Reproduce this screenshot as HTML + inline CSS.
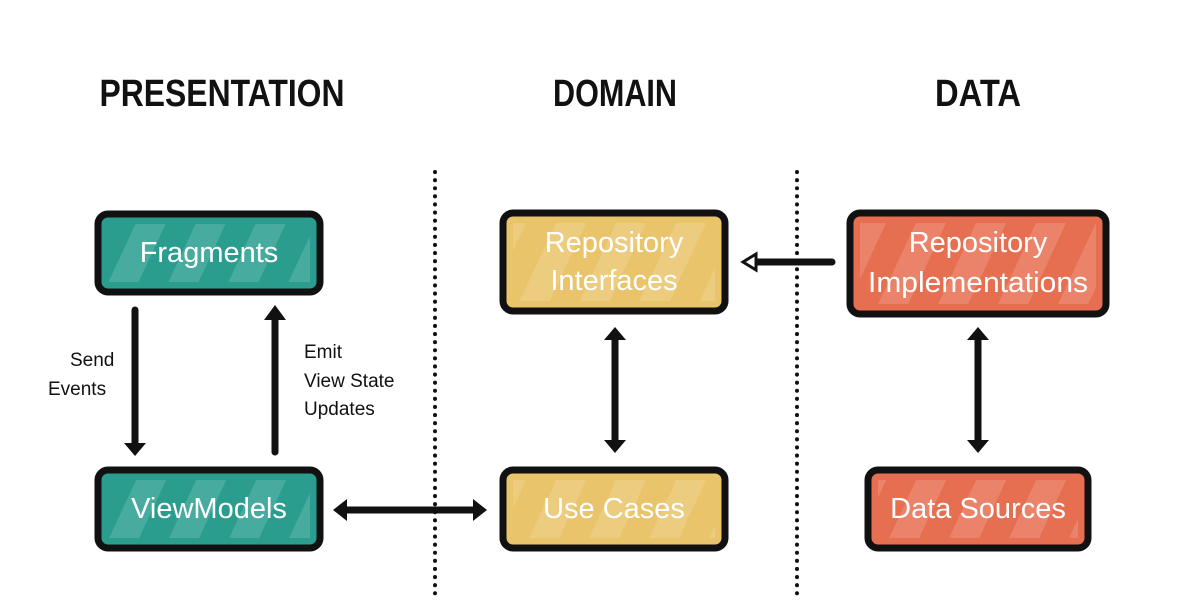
<!DOCTYPE html>
<html><head><style>
html,body{margin:0;padding:0;background:#fff;}
svg{display:block;}
text{font-family:"Liberation Sans",sans-serif;}
</style></head><body>
<svg width="1187" height="614" viewBox="0 0 1187 614" xmlns="http://www.w3.org/2000/svg">
<defs>
<pattern id="st" width="60" height="100" patternUnits="userSpaceOnUse" patternTransform="skewX(-25)">
<rect x="0" y="0" width="30" height="100" fill="#fff" opacity="0.14"/>
</pattern>
</defs>
<g font-size="38" text-anchor="middle" fill="#111" font-weight="bold" font-family="Liberation Sans Narrow, Liberation Sans, sans-serif">
<text x="222" y="106" textLength="245" lengthAdjust="spacingAndGlyphs">PRESENTATION</text>
<text x="615" y="106" textLength="124" lengthAdjust="spacingAndGlyphs">DOMAIN</text>
<text x="978" y="106" textLength="86" lengthAdjust="spacingAndGlyphs">DATA</text>
</g>
<g stroke="#111" stroke-width="4" stroke-linecap="round" stroke-dasharray="0.1 8">
<line x1="435" y1="172" x2="435" y2="600"/>
<line x1="797" y1="172" x2="797" y2="600"/>
</g>
<g stroke="#111" stroke-width="7">
<rect x="98" y="214" width="222" height="78" rx="10" fill="#2a9d8f"/>
<rect x="98" y="470" width="222" height="78" rx="10" fill="#2a9d8f"/>
<rect x="503" y="213" width="222" height="98" rx="10" fill="#e9c46a"/>
<rect x="503" y="470" width="222" height="78" rx="10" fill="#e9c46a"/>
<rect x="850" y="213" width="256" height="101" rx="10" fill="#e76f51"/>
<rect x="868" y="470" width="220" height="78" rx="10" fill="#e76f51"/>
</g>
<g fill="url(#st)">
<rect x="108" y="224" width="202" height="58"/>
<rect x="108" y="480" width="202" height="58"/>
<rect x="513" y="223" width="202" height="78"/>
<rect x="513" y="480" width="202" height="58"/>
<rect x="860" y="223" width="236" height="81"/>
<rect x="878" y="480" width="200" height="58"/>
</g>
<g fill="#fff" font-size="29" text-anchor="middle">
<text x="209" y="262">Fragments</text>
<text x="209" y="518">ViewModels</text>
<text x="614" y="252">Repository</text>
<text x="614" y="290">Interfaces</text>
<text x="614" y="518">Use Cases</text>
<text x="978" y="252">Repository</text>
<text x="978" y="292" textLength="220" lengthAdjust="spacingAndGlyphs">Implementations</text>
<text x="978" y="518">Data Sources</text>
</g>
<g stroke="#111" stroke-width="7" stroke-linecap="round" fill="none">
<line x1="135" y1="310" x2="135" y2="445"/>
<line x1="275" y1="318" x2="275" y2="452"/>
<line x1="345" y1="510" x2="475" y2="510"/>
<line x1="615" y1="335" x2="615" y2="445"/>
<line x1="978" y1="335" x2="978" y2="445"/>
<line x1="755" y1="262" x2="832" y2="262"/>
</g>
<g fill="#111">
<polygon points="124,443 146,443 135,456"/>
<polygon points="264,320 286,320 275,305"/>
<polygon points="347,499 347,521 333,510"/>
<polygon points="473,499 473,521 487,510"/>
<polygon points="604,340 626,340 615,327"/>
<polygon points="604,440 626,440 615,453"/>
<polygon points="967,340 989,340 978,327"/>
<polygon points="967,440 989,440 978,453"/>
</g>
<polygon points="756,254 756,270 743,262" fill="#fff" stroke="#111" stroke-width="3"/>
<g font-size="19" fill="#111">
<text x="70" y="366">Send</text>
<text x="48" y="395">Events</text>
<text x="304" y="358">Emit</text>
<text x="304" y="387">View State</text>
<text x="304" y="415">Updates</text>
</g>
</svg>
</body></html>
